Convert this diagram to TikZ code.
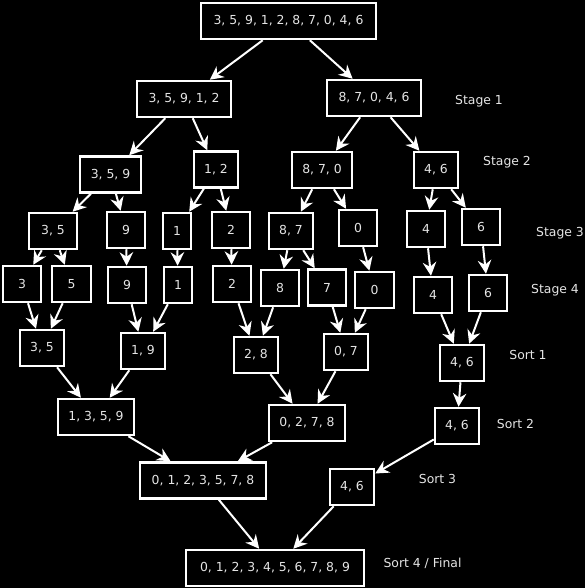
\documentclass[tikz,border=0pt]{standalone}
\usepackage{fontspec}
\setmainfont{DejaVu Sans}
\usetikzlibrary{arrows.meta}
\definecolor{txt}{gray}{0.9}
\tikzset{
  box/.style={draw=white, line width=2.5pt, fill=black, text=txt, inner sep=0pt,
    minimum height=36pt, font=\fontsize{12.4}{14}\selectfont},
  lbl/.style={text=txt, inner sep=0pt, font=\fontsize{12.4}{14}\selectfont},
  conn/.style={draw=white, line width=2pt, -{Stealth[length=13.5pt,width=13.5pt,inset=4.5pt]}}
}
\begin{document}
\begin{tikzpicture}[x=1pt,y=-1pt]
\fill[black] (0,0) rectangle (585,588);
\useasboundingbox (0,0) rectangle (585,588);
% nodes
\node[box, minimum width=175] (top) at (288.5,21) {3, 5, 9, 1, 2, 8, 7, 0, 4, 6};
\node[box, minimum width=94] (A1) at (184,99) {3, 5, 9, 1, 2};
\node[box, minimum width=94] (B1) at (374,98) {8, 7, 0, 4, 6};
\node[box, minimum width=61] (a359) at (110.5,174.5) {3, 5, 9};
\node[box, minimum width=44] (a12) at (216,169.5) {1, 2};
\node[box, minimum width=60] (b870) at (322,170) {8, 7, 0};
\node[box, minimum width=44] (b46) at (436,170) {4, 6};
\node[box, minimum width=48] (c35) at (53,231) {3, 5};
\node[box, minimum width=38] (c9) at (126,230) {9};
\node[box, minimum width=28] (c1) at (177,231) {1};
\node[box, minimum width=38] (c2) at (231,230) {2};
\node[box, minimum width=44] (c87) at (291,231) {8, 7};
\node[box, minimum width=38] (c0) at (358,228) {0};
\node[box, minimum width=38] (c4) at (426,229) {4};
\node[box, minimum width=38] (c6) at (481,227) {6};
\node[box, minimum width=38] (d3) at (22,284) {3};
\node[box, minimum width=39] (d5) at (71.5,284) {5};
\node[box, minimum width=38] (d9) at (127,285) {9};
\node[box, minimum width=28] (d1) at (178,285) {1};
\node[box, minimum width=38] (d2) at (232,284) {2};
\node[box, minimum width=38] (d8) at (280,288) {8};
\node[box, minimum width=38] (d7) at (327,287.5) {7};
\node[box, minimum width=39] (d0) at (374.5,290) {0};
\node[box, minimum width=38] (d4) at (433,295) {4};
\node[box, minimum width=38] (d6) at (488,293) {6};
\node[box, minimum width=44] (e35) at (42,348) {3, 5};
\node[box, minimum width=44] (e19) at (143,351) {1, 9};
\node[box, minimum width=44] (e28) at (256,355) {2, 8};
\node[box, minimum width=44] (e07) at (346,352) {0, 7};
\node[box, minimum width=44] (e46) at (462,363) {4, 6};
\node[box, minimum width=76] (f1359) at (96,417) {1, 3, 5, 9};
\node[box, minimum width=76] (f0278) at (307,423) {0, 2, 7, 8};
\node[box, minimum width=44] (f46) at (457,426) {4, 6};
\node[box, minimum width=126] (g7) at (203,480.5) {0, 1, 2, 3, 5, 7, 8};
\node[box, minimum width=44] (g46) at (352,487) {4, 6};
\node[box, minimum width=178] (fin) at (275,568) {0, 1, 2, 3, 4, 5, 6, 7, 8, 9};
% labels
\node[lbl] (l1) at (479,101) {Stage 1};
\node[lbl] (l2) at (507,162) {Stage 2};
\node[lbl] (l3) at (560,233) {Stage 3};
\node[lbl] (l4) at (555,290) {Stage 4};
\node[lbl] (l5) at (528,355) {Sort 1};
\node[lbl] (l6) at (515.5,424) {Sort 2};
\node[lbl] (l7) at (437.5,479) {Sort 3};
\node[lbl] (l8) at (422.5,563) {Sort 4 / Final};
% connectors
\draw[conn] (top) -- (A1);
\draw[conn] (top) -- (B1);
\draw[conn] (A1) -- (a359);
\draw[conn] (A1) -- (a12);
\draw[conn] (B1) -- (b870);
\draw[conn] (B1) -- (b46);
\draw[conn] (a359) -- (c35);
\draw[conn] (a359) -- (c9);
\draw[conn] (a12) -- (c1);
\draw[conn] (a12) -- (c2);
\draw[conn] (b870) -- (c87);
\draw[conn] (b870) -- (c0);
\draw[conn] (b46) -- (c4);
\draw[conn] (b46) -- (c6);
\draw[conn] (c35) -- (d3);
\draw[conn] (c35) -- (d5);
\draw[conn] (c9) -- (d9);
\draw[conn] (c1) -- (d1);
\draw[conn] (c2) -- (d2);
\draw[conn] (c87) -- (d8);
\draw[conn] (c87) -- (d7);
\draw[conn] (c0) -- (d0);
\draw[conn] (c4) -- (d4);
\draw[conn] (c6) -- (d6);
\draw[conn] (d3) -- (e35);
\draw[conn] (d5) -- (e35);
\draw[conn] (d9) -- (e19);
\draw[conn] (d1) -- (e19);
\draw[conn] (d2) -- (e28);
\draw[conn] (d8) -- (e28);
\draw[conn] (d7) -- (e07);
\draw[conn] (d0) -- (e07);
\draw[conn] (d4) -- (e46);
\draw[conn] (d6) -- (e46);
\draw[conn] (e35) -- (f1359);
\draw[conn] (e19) -- (f1359);
\draw[conn] (e28) -- (f0278);
\draw[conn] (e07) -- (f0278);
\draw[conn] (e46) -- (f46);
\draw[conn] (f1359) -- (g7);
\draw[conn] (f0278) -- (g7);
\draw[conn] (f46) -- (g46);
\draw[conn] (g7) -- (fin);
\draw[conn] (g46) -- (fin);
\end{tikzpicture}
\end{document}
